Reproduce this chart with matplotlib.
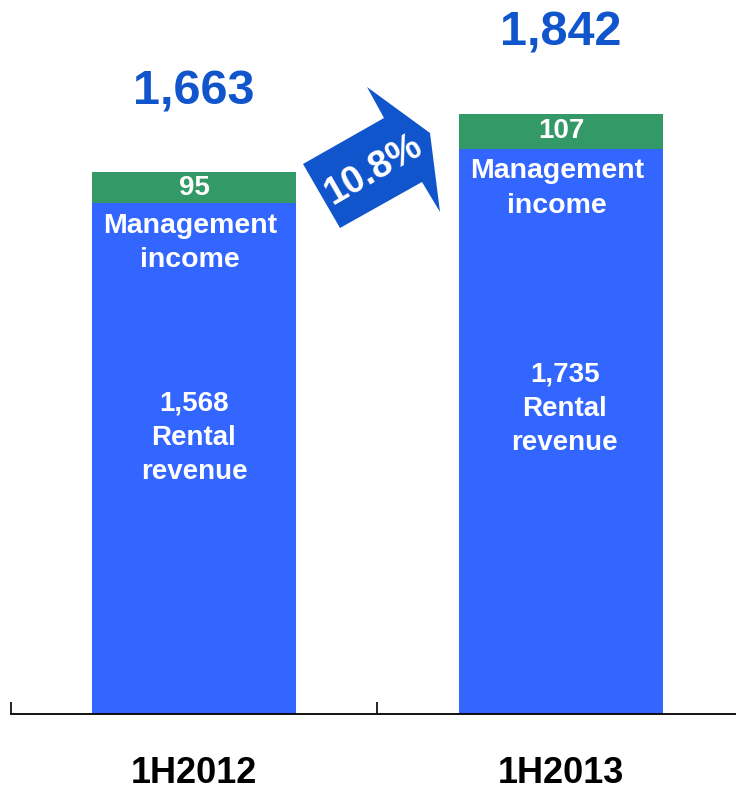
import matplotlib.pyplot as plt
from matplotlib.patches import Polygon

plt.rcParams['font.family'] = ['Liberation Sans', 'DejaVu Sans']
plt.rcParams['font.weight'] = 'bold'

periods = ['1H2012', '1H2013']
rental = [1568, 1735]
management = [95, 107]
totals = [1663, 1842]
growth_label = '10.8%'

BLUE = '#3366FF'
GREEN = '#339966'
DARK_BLUE = '#1155CC'

W, H = 736, 790
fig = plt.figure(figsize=(W / 100, H / 100), dpi=100)
# axes: left spine at ~10 px, baseline at 714 px from top, reaches top of figure
ax = fig.add_axes([10.5 / W, (H - 714) / H, (W - 10.5) / W, 714 / H])

x = list(range(len(periods)))
width = 0.556
ax.bar(x, rental, width, color=BLUE, zorder=2)
ax.bar(x, management, width, bottom=rental, color=GREEN, zorder=2)

ax.set_xlim(-0.5, 1.477)
ax.set_ylim(0, 2191)

for i in x:
    # management value in green segment
    ax.text(i, rental[i] + management[i] / 2, f'{management[i]:,}',
            ha='center', va='center', color='white', fontsize=20)
    # management label just below the blue top
    ax.annotate('Management\nincome', xy=(i - 0.01, rental[i]), xytext=(0, -7),
                textcoords='offset points', ha='center', va='top',
                color='white', fontsize=20.5, linespacing=1.42)
    # rental value and label in the middle of the blue bar
    ax.text(i + 0.01 * i, rental[i] * 0.54, f'{rental[i]:,}\nRental\nrevenue',
            ha='center', va='center', color='white', fontsize=20,
            linespacing=1.42)
    # total above the bar
    ax.annotate(f'{totals[i]:,}', xy=(i, totals[i]), xytext=(0, 49),
                textcoords='offset points', ha='center', va='baseline',
                color=DARK_BLUE, fontsize=35)

# axis styling
for side in ['top', 'right', 'left']:
    ax.spines[side].set_visible(False)
ax.spines['bottom'].set_linewidth(1.3)
ax.set_yticks([])
ax.set_xticks(x)
ax.set_xticklabels(periods, fontsize=26)
ax.tick_params(axis='x', which='major', length=0, pad=30)
ax.set_xticks([-0.5, 0.5], minor=True)
ax.tick_params(axis='x', which='minor', direction='in', length=9, width=1.2)

# growth arrow (figure pixel coordinates, y measured from top)
arrow_px = [(303, 164), (384, 118), (367, 87), (430, 133),
            (440, 212), (422, 182), (340, 228)]
arrow_fig = [(px / W, 1 - py / H) for px, py in arrow_px]
fig.patches.append(Polygon(arrow_fig, closed=True, transform=fig.transFigure,
                           facecolor=DARK_BLUE, edgecolor='none'))
fig.text(374 / W, 1 - 170 / H, growth_label, rotation=30, rotation_mode='anchor',
         ha='center', va='center', color='white', fontsize=27)

fig.savefig('out.png', dpi=100)
